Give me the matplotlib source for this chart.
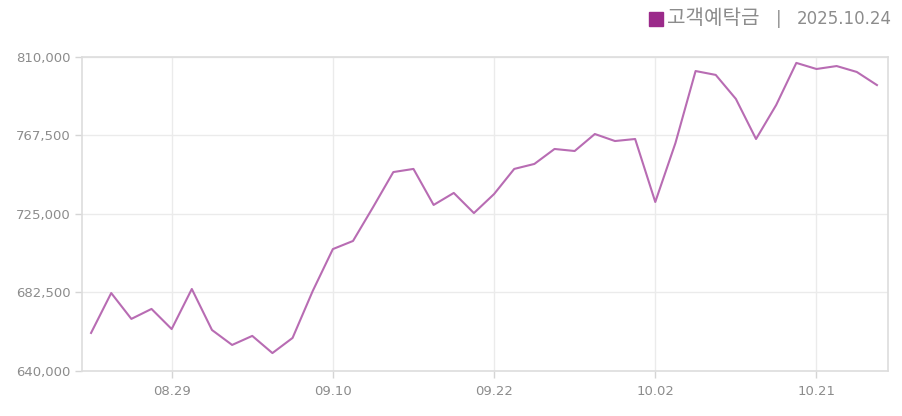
import numpy as np
import matplotlib.pyplot as plt
from matplotlib.patches import Rectangle

plt.rcParams['font.family'] = ['Noto Sans CJK KR', 'DejaVu Sans']

# 고객예탁금 (백만원) - 2025.08.25 ~ 2025.10.24 영업일
dates = ['08.25', '08.26', '08.27', '08.28', '08.29',
         '09.01', '09.02', '09.03', '09.04', '09.05',
         '09.08', '09.09', '09.10', '09.11', '09.12',
         '09.15', '09.16', '09.17', '09.18', '09.19',
         '09.22', '09.23', '09.24', '09.25', '09.26',
         '09.29', '09.30', '10.01', '10.02', '10.10',
         '10.13', '10.14', '10.15', '10.16', '10.17',
         '10.20', '10.21', '10.22', '10.23', '10.24']
deposits = [660600, 682200, 668200, 673600, 662700,
            684400, 662200, 654100, 659000, 649700,
            657900, 683300, 706000, 710400, 728800,
            747700, 749400, 729900, 736400, 725500,
            735800, 749400, 752100, 760200, 759100,
            768300, 764500, 765600, 731500, 763400,
            802400, 800300, 787300, 765600, 784000,
            806800, 803500, 805100, 801900, 794800]
tick_labels = ['08.29', '09.10', '09.22', '10.02', '10.21']
y_ticks = [640000, 682500, 725000, 767500, 810000]

x = np.arange(len(dates))
tick_pos = [dates.index(t) for t in tick_labels]

fig = plt.figure(figsize=(9.02, 4.16), dpi=100)
ax = fig.add_axes([0.0909, 0.1082, 0.8936, 0.7548])

ax.plot(x, deposits, color='#b86cb3', lw=1.5)

ax.set_xlim(-0.45, len(dates) - 0.45)
ax.set_ylim(640000, 810000)
ax.set_xticks(tick_pos)
ax.set_xticklabels(tick_labels)
ax.set_yticks(y_ticks)
ax.set_yticklabels([f'{v:,}' for v in y_ticks])

ax.grid(True, color='#ebebeb', lw=1)
ax.set_axisbelow(True)
for s in ax.spines.values():
    s.set_color('#dddddd')
    s.set_linewidth(1.2)
ax.tick_params(axis='both', colors='#d5d5d5', labelcolor='#8c8c8c', labelsize=9.5,
               length=5, width=1)
ax.tick_params(axis='x', pad=5)
ax.tick_params(axis='y', pad=3)
for lbl in ax.get_xticklabels() + ax.get_yticklabels():
    lbl.set_family('DejaVu Sans')

# 상단 범례
fig.patches.append(Rectangle((649 / 902, 1 - 26 / 416), 14 / 902, 14 / 416,
                             transform=fig.transFigure, color='#9b2a8a'))
fig.text(667 / 902, 1 - 19 / 416, '고객예탁금', color='#8c8c8c',
         fontsize=14.5, va='center', ha='left')
fig.text(779 / 902, 1 - 19 / 416, '|', color='#8c8c8c',
         fontsize=12, va='center', ha='center', family='DejaVu Sans')
fig.text(797 / 902, 1 - 19 / 416, '2025.10.24', color='#8c8c8c',
         fontsize=12, va='center', ha='left', family='DejaVu Sans')

fig.savefig('out.png', dpi=100)
